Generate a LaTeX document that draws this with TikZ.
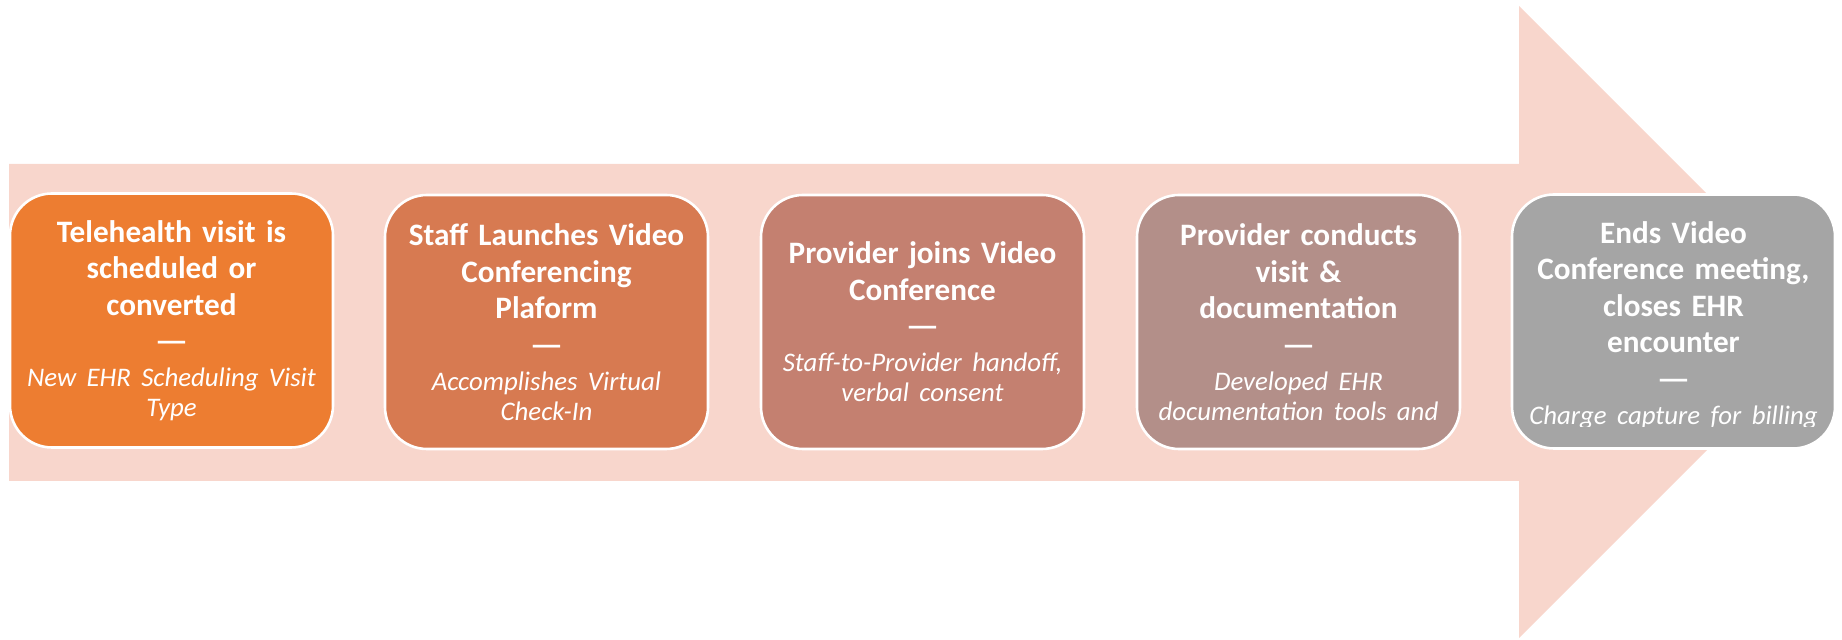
\documentclass[tikz,border=0pt]{standalone}
\usepackage{fontspec}
\setmainfont{Carlito}
\definecolor{arrowc}{HTML}{F8D6CC}
\definecolor{cA}{HTML}{ED7D31}
\definecolor{cB}{HTML}{D77A51}
\definecolor{cC}{HTML}{C48070}
\definecolor{cD}{HTML}{B38F89}
\definecolor{cE}{HTML}{A5A5A5}
\newcommand\ttlfont{\fontsize{15.6pt}{18.25pt}\selectfont\bfseries}
\newcommand\subtxt{\par\vspace{2.5pt}\fontsize{13.4pt}{15pt}\selectfont\mdseries\itshape}
\newcommand\sepdash{\scalebox{1.2}[1]{---}}
\begin{document}
\begin{tikzpicture}[x=0.5pt,y=-0.5pt,
  stepbox/.style={draw=white, line width=1.3pt, rounded corners=21pt,
    minimum width=161.5pt, minimum height=127pt, inner sep=0pt,
    text=white, align=center, text width=160pt, font=\ttlfont},
  boxtext/.style={text=white, align=center, text width=160pt, inner sep=0pt, font=\ttlfont}
]
\useasboundingbox (0,0) rectangle (1842,640);
% big background arrow
\fill[arrowc] (9,164) -- (1519,164) -- (1519,6) -- (1835,322) -- (1519,638) -- (1519,481) -- (9,481) -- cycle;

\node[stepbox, fill=cA] (b1) at (171.5,320.5) {Telehealth visit is\\ scheduled or\\ converted\\ \sepdash\subtxt New EHR Scheduling Visit\\ Type\par};
\node[stepbox, fill=cB] (b2) at (546.5,322) {Staff Launches Video\\ Conferencing\\ Plaform\\ \sepdash\subtxt Accomplishes Virtual\\ Check-In\par};
\node[stepbox, fill=cC] (b3) at (922.5,322) {Provider joins Video\\ Conference\\ \sepdash\subtxt Staff-to-Provider handoff,\\ verbal consent\par};
\node[stepbox, fill=cD] (b4) at (1298.5,322) {Provider conducts\\ visit \&\\ documentation\\ \sepdash\subtxt Developed EHR\\ documentation tools and\par};
\node[stepbox, fill=cE] (b5) at (1673.5,321.5) {};
\begin{scope}
  \clip (1513,190) rectangle (1834,427);
  \node[boxtext, anchor=north] (t5) at (1673.5,221) {Ends Video\\ Conference meeting,\\ closes EHR\\ encounter\\ \sepdash\subtxt Charge capture for billing\par};
\end{scope}
\end{tikzpicture}
\end{document}
